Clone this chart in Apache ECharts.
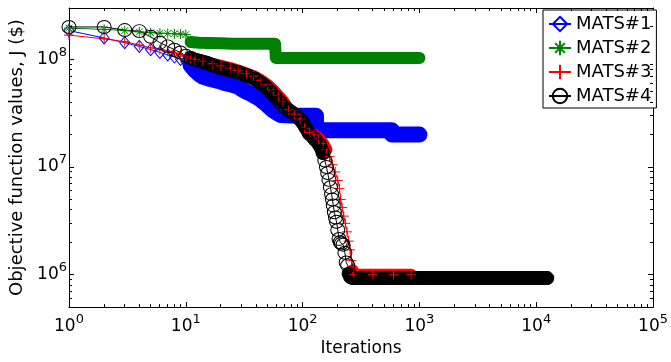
<!DOCTYPE html>
<html><head><meta charset="utf-8">
<script src="https://cdn.jsdelivr.net/npm/echarts@6/dist/echarts.min.js"></script>
<style>html,body{margin:0;padding:0;background:#fff}#c{width:671px;height:362px}</style>
</head><body><div id="c"></div>
<script>
const seriesNames = ['MATS#1', 'MATS#2', 'MATS#3', 'MATS#4'];
const xAxisTitle = 'Iterations';
const yAxisTitle = 'Objective function values, J ($)';

const mats1Iter = [1,2,3,4,5,6,7,8,9,10,11,12,13,14,16,19,22,25,28,30,33,36,40,44,48,52,56,60,65,90,130,131,300,580,581,1000];
const mats1J = [1.85e8,1.58e8,1.43e8,1.32e8,1.23e8,1.16e8,1.1e8,1.05e8,1.0e8,9.5e7,8.8e7,7.9e7,7.3e7,6.9e7,6.6e7,6.3e7,6.0e7,5.8e7,5.6e7,5.3e7,5.0e7,4.8e7,4.5e7,4.2e7,3.9e7,3.6e7,3.35e7,3.2e7,3.05e7,3.0e7,3.0e7,2.2e7,2.2e7,2.2e7,2.0e7,2.0e7];

const mats2Iter = [1,2,3,4,5,6,7,8,9,10,11,13,16,20,25,30,36,43,50,58,59,100,200,400,700,1000];
const mats2J = [1.95e8,1.9e8,1.85e8,1.8e8,1.77e8,1.75e8,1.74e8,1.73e8,1.72e8,1.7e8,1.45e8,1.43e8,1.42e8,1.41e8,1.4e8,1.4e8,1.4e8,1.4e8,1.4e8,1.4e8,1.03e8,1.03e8,1.03e8,1.03e8,1.03e8,1.03e8];

const mats3Iter = [1,2,3,4,5,6,7,8,9,10,11,12,14,17,20,24,28,33,38,44,50,56,62,68,76,85,95,104,115,125,137,150,160,170,180,190,200,207,212,218,225,232,240,248,255,262,268,275,400,600,850];
const mats3J = [1.68e8,1.55e8,1.46e8,1.36e8,1.28e8,1.23e8,1.19e8,1.15e8,1.11e8,1.07e8,1.03e8,1.0e8,9.6e7,9.1e7,8.7e7,8.3e7,7.9e7,7.4e7,7.0e7,6.4e7,5.8e7,5.2e7,4.6e7,4.1e7,3.4e7,3.1e7,2.8e7,2.3e7,2.1e7,2.0e7,1.85e7,1.65e7,1.45e7,1.25e7,1.05e7,9.0e6,7.5e6,6.3e6,5.0e6,4.2e6,3.5e6,3.0e6,2.5e6,2.05e6,1.7e6,1.35e6,1.1e6,1.0e6,1.0e6,1.0e6,1.0e6];

const mats4Iter = [1,2,3,4,5,6,7,8,9,10,11,12,13,15,17,20,24,28,33,39,44,48,53,58,64,70,78,89,100,114,128,140,150,155,160,164,168,173,177,180,183,187,191,195,200,205,210,215,222,230,236,243,250,258,270,1000,12300];
const mats4J = [2.0e8,2.0e8,1.87e8,1.83e8,1.62e8,1.43e8,1.32e8,1.23e8,1.16e8,1.08e8,1.03e8,9.9e7,9.7e7,9.3e7,8.8e7,8.3e7,7.9e7,7.6e7,7.1e7,6.6e7,6.0e7,5.6e7,5.0e7,4.5e7,4.0e7,3.6e7,3.3e7,3.0e7,2.6e7,2.05e7,1.8e7,1.6e7,1.35e7,1.15e7,1.0e7,8.8e6,7.6e6,6.5e6,5.6e6,5.0e6,4.4e6,3.8e6,3.4e6,3.1e6,2.6e6,2.15e6,2.0e6,1.95e6,1.9e6,1.6e6,1.3e6,1.22e6,1.02e6,9.5e5,9.3e5,9.3e5,9.3e5];

const xMin = 1, xMax = 1e5, yMin = 5e5, yMax = 3e8;
const xMinorTicks = [2,3,4,5,6,7,8,9,20,30,40,50,60,70,80,90,200,300,400,500,600,700,800,900,2000,3000,4000,5000,6000,7000,8000,9000,20000,30000,40000,50000,60000,70000,80000,90000];
const yMinorTicks = [6e5,7e5,8e5,9e5,2e6,3e6,4e6,5e6,6e6,7e6,8e6,9e6,2e7,3e7,4e7,5e7,6e7,7e7,8e7,9e7,2e8];

const FONT = 'DejaVu Sans';
const colors = ['#0000ff', '#008000', '#ff0000', '#000000'];
const symbols = [
  'diamond',
  'path://M5,0L5,10M0,5L10,5M1.6,1.6L8.4,8.4M1.6,8.4L8.4,1.6',
  'path://M5,0L5,10M0,5L10,5',
  'circle'
];
const symbolSizes = [[10, 12], 10, 10, [14, 13]];
const hollow = [true, false, false, true];
const bandWidths = [16, 12, 12, 14];
const bandRanges = [[[11, 1000]], [[11, 1000]], [[12, 160], [268, 1000]], [[11, 150], [250, 13000]]];
const iters = [mats1Iter, mats2Iter, mats3Iter, mats4Iter];
const vals = [mats1J, mats2J, mats3J, mats4J];

function powLabel(v) {
  const l = Math.log10(v);
  const e = Math.round(l);
  if (Math.abs(l - e) > 1e-6) return '';
  return '{b|10}{s|' + e + '}';
}
const richLab = {
  b: { fontFamily: FONT, fontSize: 17, lineHeight: 22, verticalAlign: 'bottom', color: '#000' },
  s: { fontFamily: FONT, fontSize: 13, verticalAlign: 'top', color: '#000' }
};

const series = [];
for (let k = 0; k < 4; k++) {
  const pts = iters[k].map((t, i) => [t, vals[k][i]]);
  const band = iters[k].map((t, i) => bandRanges[k].some(r => t >= r[0] && t <= r[1]) ? [t, vals[k][i]] : [t, '-']);
  series.push({
    type: 'line', name: seriesNames[k] + ' band', data: band, showSymbol: false, silent: true,
    clip: false, connectNulls: false, animation: false,
    lineStyle: { color: colors[k], width: bandWidths[k], cap: 'round', join: 'round' },
    emphasis: { disabled: true }
  });
  series.push({
    type: 'line', name: seriesNames[k], data: pts, symbol: symbols[k], symbolSize: symbolSizes[k],
    clip: false, animation: false,
    lineStyle: { color: colors[k], width: 1 },
    itemStyle: { color: hollow[k] ? 'rgba(0,0,0,0)' : colors[k], borderColor: colors[k], borderWidth: 1 },
    emphasis: { disabled: true }
  });
}
series.push({
  type: 'custom', silent: true, z: 10, animation: false,
  data: xMinorTicks.map(v => [v, 1e6]),
  renderItem: function (params, api) {
    const cs = params.coordSys;
    const x = Math.round(api.coord([api.value(0), 1e6])[0] - 0.5) + 0.5;
    const st = { stroke: '#000', lineWidth: 1 };
    return { type: 'group', children: [
      { type: 'line', shape: { x1: x, y1: cs.y + cs.height, x2: x, y2: cs.y + cs.height - 3 }, style: st },
      { type: 'line', shape: { x1: x, y1: cs.y, x2: x, y2: cs.y + 3 }, style: st }
    ] };
  }
});
series.push({
  type: 'custom', silent: true, z: 10, animation: false,
  data: yMinorTicks.map(v => [10, v]),
  renderItem: function (params, api) {
    const cs = params.coordSys;
    const y = Math.round(api.coord([10, api.value(1)])[1] - 0.5) + 0.5;
    const st = { stroke: '#000', lineWidth: 1 };
    return { type: 'group', children: [
      { type: 'line', shape: { x1: cs.x, y1: y, x2: cs.x + 3, y2: y }, style: st },
      { type: 'line', shape: { x1: cs.x + cs.width, y1: y, x2: cs.x + cs.width - 3, y2: y }, style: st }
    ] };
  }
});

const axisCommon = {
  axisLine: { show: true, onZero: false, lineStyle: { color: '#000', width: 1 } },
  axisTick: { show: true, inside: true, length: 5, lineStyle: { color: '#000', width: 1 } },
  splitLine: { show: false }
};

const option = {
  animation: false,
  backgroundColor: '#fff',
  grid: { left: 69, top: 8, width: 591, height: 306, containLabel: false },
  legend: {
    data: seriesNames, orient: 'vertical', left: 543, top: 10,
    padding: [5, 5, 3, 5], itemGap: 6, itemWidth: 22, itemHeight: 18,
    borderColor: '#000', borderWidth: 1, borderRadius: 0, backgroundColor: '#fff',
    textStyle: { fontFamily: FONT, fontSize: 18, color: '#000' },
    selectedMode: false
  },
  xAxis: [
    Object.assign({}, axisCommon, {
      type: 'log', logBase: 10, min: xMin, max: xMax, position: 'bottom',
      axisLabel: { formatter: powLabel, rich: richLab, margin: 6 },
      name: xAxisTitle, nameLocation: 'middle', nameGap: 27,
      nameTextStyle: { fontFamily: FONT, fontSize: 17, color: '#000' }
    }),
    Object.assign({}, axisCommon, {
      type: 'log', logBase: 10, min: xMin, max: xMax, position: 'top',
      axisLabel: { show: false }
    })
  ],
  yAxis: [
    Object.assign({}, axisCommon, {
      type: 'log', logBase: 10, min: yMin, max: yMax, position: 'left',
      axisLabel: { formatter: powLabel, rich: richLab, margin: 2, padding: [0, 0, 5, 0] },
      name: yAxisTitle, nameLocation: 'middle', nameGap: 40,
      nameTextStyle: { fontFamily: FONT, fontSize: 18, color: '#000' }
    }),
    Object.assign({}, axisCommon, {
      type: 'log', logBase: 10, min: yMin, max: yMax, position: 'right',
      axisLabel: { show: false }
    })
  ],
  series: series
};
const chart = echarts.init(document.getElementById('c'), null, { renderer: 'canvas' });
chart.setOption(option);
</script>
</body></html>
